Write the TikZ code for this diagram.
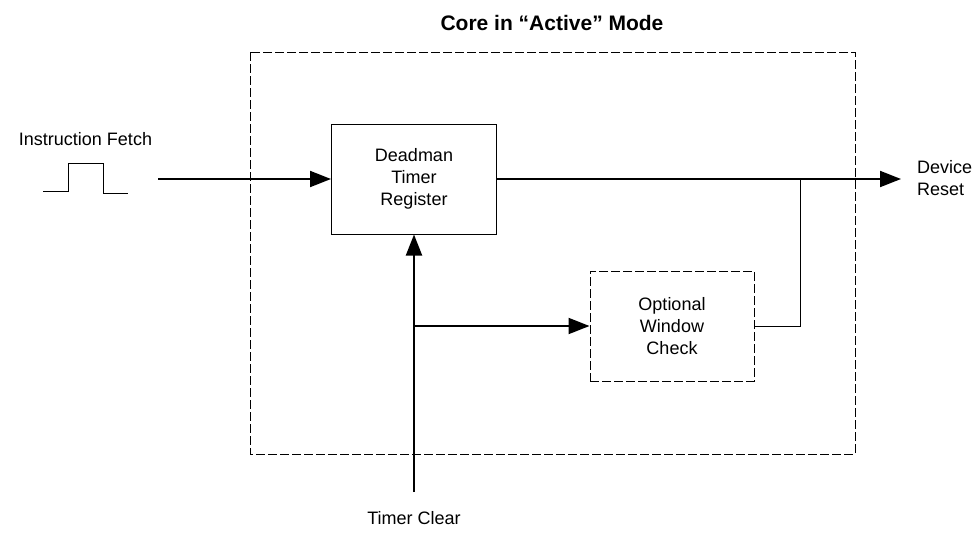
\documentclass[tikz,border=0pt]{standalone}
\usepackage{fontspec}
\setmainfont{Liberation Sans}
\usetikzlibrary{arrows.meta}
\begin{document}
\begin{tikzpicture}[x=1pt,y=-1pt,
  lbl/.style={font=\fontsize{18}{22}\selectfont, inner sep=0pt, align=center},
  solidbox/.style={draw, line width=1pt, minimum width=165pt, minimum height=110pt, font=\fontsize{18}{22}\selectfont, align=center, inner sep=0pt},
  dashbox/.style={solidbox, dash pattern=on 9pt off 3pt},
  sig/.style={line width=2pt},
  arr/.style={sig, -{Triangle[length=21pt,width=16pt]}}]
\useasboundingbox (0,0) rectangle (980,538);
\node[font=\bfseries\fontsize{21}{25}\selectfont, inner sep=0pt] (title) at (552,23) {Core in “Active” Mode};
\draw[line width=1pt, dash pattern=on 9pt off 3pt] (250,52) rectangle (855,454);
\node[solidbox] (dm) at (414,179) {Deadman\\Timer\\Register};
\node[dashbox, minimum width=164pt] (ow) at (672,326) {\raisebox{2pt}{\parbox{100pt}{\centering Optional\\Window\\Check}}};
\node[lbl] (fetch) at (85.5,139) {Instruction Fetch};
\draw[line width=1pt] (43,191) -- (68,191) -- (68,163.5) -- (103,163.5) -- (103,193) -- (128,193);
\coordinate (fin) at (158,179);
\draw[arr] (fin) -- (dm.west);
\coordinate (rst) at (901,179);
\draw[arr] (dm.east) -- (rst);
\node[lbl, anchor=west, align=left] (reset) at (917,178) {Device\\Reset};
\coordinate (jn) at (800,179);
\draw[line width=1pt] (ow.east) -| (jn);
\node[lbl] (clear) at (414,518) {Timer Clear};
\coordinate (cb) at (414,492);
\draw[arr] (cb) -- (dm.south);
\coordinate (br) at (414,326);
\draw[arr] (br) -- (ow.west);
\end{tikzpicture}
\end{document}
